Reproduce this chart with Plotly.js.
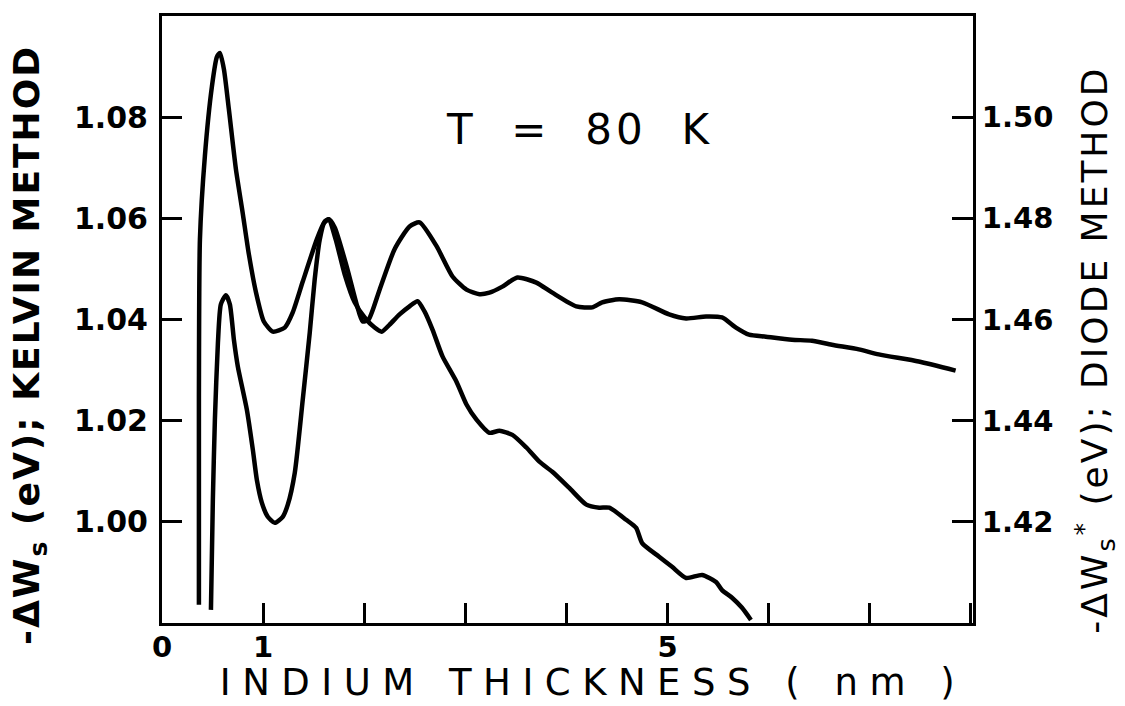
<!DOCTYPE html>
<html>
<head>
<meta charset="utf-8">
<script src="https://cdn.plot.ly/plotly-3.0.1.min.js"></script>
<style>
  html, body { margin: 0; padding: 0; background: #fff; }
  #chart { width: 1125px; height: 706px; }
  .annotation[data-index="0"] text { letter-spacing: 2px; }
  .annotation[data-index="1"] text { letter-spacing: 3px; }
  .annotation[data-index="2"] text { letter-spacing: 11.5px; }
  .annotation[data-index="3"] text { letter-spacing: 4px; }
</style>
</head>
<body>
<div id="chart"></div>
<script>
// Indium thickness (nm) and surface work-function change, Kelvin method (left axis)
const kelvinThickness = [0.365, 0.365, 0.375, 0.424, 0.494, 0.543, 0.573, 0.612, 0.661, 0.731, 0.800, 0.859, 0.928, 1.007, 1.096, 1.214, 1.293, 1.392, 1.530, 1.599, 1.649, 1.708, 1.826, 1.925, 1.984, 2.043, 2.152, 2.300, 2.448, 2.547, 2.715, 2.873, 3.011, 3.139, 3.238, 3.366, 3.514, 3.702, 3.860, 4.097, 4.255, 4.353, 4.521, 4.748, 5.015, 5.183, 5.380, 5.538, 5.676, 5.805, 5.972, 6.229, 6.427, 6.624, 6.890, 7.088, 7.483, 7.848];
const kelvinValues = [0.9836, 1.0242, 1.0558, 1.0723, 1.0861, 1.0919, 1.0927, 1.0895, 1.0816, 1.0697, 1.0608, 1.0529, 1.0455, 1.0396, 1.0376, 1.0384, 1.0414, 1.0475, 1.0558, 1.0590, 1.0598, 1.0582, 1.0505, 1.0430, 1.0396, 1.0400, 1.0459, 1.0539, 1.0584, 1.0592, 1.0545, 1.0485, 1.0459, 1.0450, 1.0453, 1.0465, 1.0483, 1.0473, 1.0453, 1.0426, 1.0424, 1.0434, 1.0440, 1.0434, 1.0410, 1.0402, 1.0406, 1.0404, 1.0384, 1.0370, 1.0366, 1.0360, 1.0358, 1.0350, 1.0341, 1.0331, 1.0317, 1.0299];

// Diode method (right axis)
const diodeThickness = [0.484, 0.503, 0.523, 0.553, 0.582, 0.632, 0.671, 0.711, 0.750, 0.839, 0.898, 0.938, 0.987, 1.046, 1.115, 1.194, 1.244, 1.313, 1.392, 1.461, 1.510, 1.560, 1.609, 1.649, 1.718, 1.807, 1.905, 2.004, 2.103, 2.172, 2.251, 2.349, 2.448, 2.527, 2.596, 2.675, 2.774, 2.912, 3.011, 3.110, 3.238, 3.337, 3.465, 3.603, 3.732, 3.860, 4.028, 4.196, 4.324, 4.423, 4.590, 4.689, 4.748, 4.916, 5.044, 5.183, 5.341, 5.479, 5.538, 5.637, 5.736, 5.824];
const diodeValues = [1.4026, 1.4244, 1.4402, 1.4554, 1.4630, 1.4648, 1.4630, 1.4560, 1.4507, 1.4422, 1.4343, 1.4283, 1.4238, 1.4210, 1.4198, 1.4210, 1.4234, 1.4297, 1.4442, 1.4574, 1.4679, 1.4758, 1.4794, 1.4798, 1.4758, 1.4689, 1.4634, 1.4604, 1.4584, 1.4576, 1.4590, 1.4610, 1.4626, 1.4636, 1.4616, 1.4580, 1.4527, 1.4477, 1.4432, 1.4402, 1.4376, 1.4380, 1.4372, 1.4347, 1.4319, 1.4299, 1.4267, 1.4234, 1.4228, 1.4228, 1.4204, 1.4188, 1.4158, 1.4131, 1.4111, 1.4089, 1.4095, 1.4081, 1.4065, 1.4050, 1.4030, 1.4006];

const xTickVals = [0, 1, 5];
const xTickText = ['0', '1', '5'];
const kelvinTickVals = [1.00, 1.02, 1.04, 1.06, 1.08];
const kelvinTickText = ['1.00', '1.02', '1.04', '1.06', '1.08'];
const diodeTickVals = [1.42, 1.44, 1.46, 1.48, 1.50];
const diodeTickText = ['1.42', '1.44', '1.46', '1.48', '1.50'];

const fontFam = 'DejaVu Sans, sans-serif';

const traces = [
  {
    x: kelvinThickness, y: kelvinValues, type: 'scatter', mode: 'lines',
    line: { color: '#000', width: 4.5, shape: 'spline', smoothing: 0.6 },
    yaxis: 'y', hoverinfo: 'skip'
  },
  {
    x: diodeThickness, y: diodeValues, type: 'scatter', mode: 'lines',
    line: { color: '#000', width: 4.5, shape: 'spline', smoothing: 0.6 },
    yaxis: 'y2', hoverinfo: 'skip'
  }
];

const layout = {
  width: 1125, height: 706,
  margin: { l: 162, r: 152, t: 16, b: 83 },
  paper_bgcolor: '#fff', plot_bgcolor: '#fff',
  showlegend: false,
  xaxis: {
    range: [0, 8.02], showgrid: false, zeroline: false,
    showline: true, linecolor: '#000', linewidth: 3, mirror: true,
    ticks: 'inside', ticklen: 20, tickwidth: 3, tickcolor: '#000',
    tickvals: xTickVals, ticktext: xTickText,
    ticklabelstandoff: -4,
    minor: { tick0: 0, dtick: 1, ticks: 'inside', ticklen: 20, tickwidth: 3, tickcolor: '#000', showgrid: false },
    tickfont: { family: fontFam, size: 29, color: '#000', weight: 'bold' }
  },
  yaxis: {
    range: [0.98, 1.10], showgrid: false, zeroline: false,
    showline: true, linecolor: '#000', linewidth: 3, mirror: true,
    ticks: 'inside', ticklen: 20, tickwidth: 3, tickcolor: '#000',
    tickvals: kelvinTickVals, ticktext: kelvinTickText,
    ticklabelstandoff: 5,
    tickfont: { family: fontFam, size: 30, color: '#000', weight: 'bold' }
  },
  yaxis2: {
    range: [1.40, 1.52], overlaying: 'y', side: 'right',
    showgrid: false, zeroline: false,
    showline: true, linecolor: '#000', linewidth: 3,
    ticks: 'inside', ticklen: 21, tickwidth: 3, tickcolor: '#000',
    tickvals: diodeTickVals, ticktext: diodeTickText,
    tickfont: { family: fontFam, size: 29, color: '#000', weight: 'bold' }
  },
  annotations: [
    {
      text: '-ΔW<sub>s</sub> (eV); KELVIN METHOD',
      xref: 'paper', yref: 'paper', x: -0.1628, y: 0.458,
      xanchor: 'center', yanchor: 'middle', textangle: -90, showarrow: false,
      font: { family: fontFam, size: 36, color: '#000', weight: 'bold' }
    },
    {
      text: '-ΔW<sub>s</sub><sup>*</sup> (eV); DIODE METHOD',
      xref: 'paper', yref: 'paper', x: 1.1504, y: 0.450,
      xanchor: 'center', yanchor: 'middle', textangle: -90, showarrow: false,
      font: { family: fontFam, size: 36, color: '#000', weight: 500 }
    },
    {
      text: 'INDIUM THICKNESS ( nm )',
      xref: 'paper', yref: 'paper', x: 0.532, y: -0.098,
      xanchor: 'center', yanchor: 'middle', showarrow: false,
      font: { family: fontFam, size: 37, color: '#000' }
    },
    {
      text: 'T  =  80  K',
      xref: 'x', yref: 'y', x: 4.13, y: 1.0776,
      xanchor: 'center', yanchor: 'middle', showarrow: false,
      font: { family: fontFam, size: 42, color: '#000' }
    }
  ]
};

Plotly.newPlot('chart', traces, layout, { staticPlot: true, displayModeBar: false });
</script>
</body>
</html>
